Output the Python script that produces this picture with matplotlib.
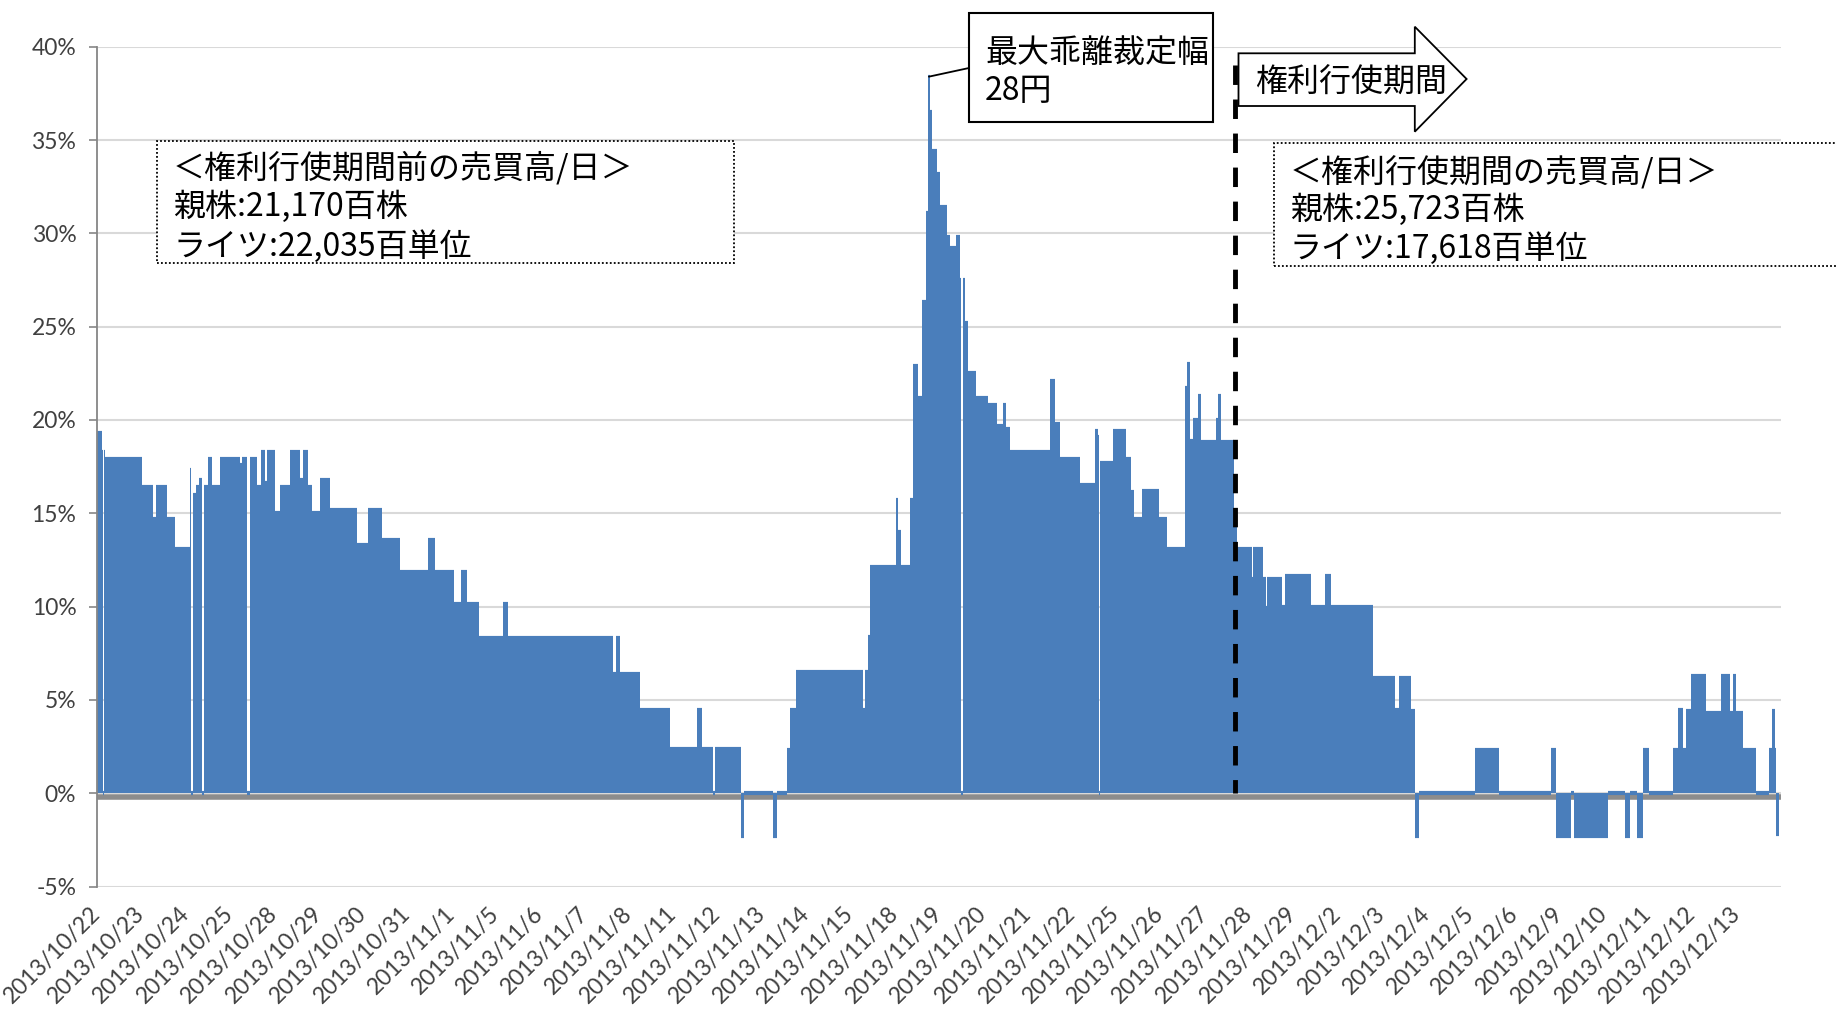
import numpy as np
import matplotlib
matplotlib.use('Agg')
import matplotlib.pyplot as plt
from matplotlib.patches import Rectangle, Polygon
from matplotlib.ticker import FuncFormatter

# trading days on the category axis
dates = ['2013/10/22', '2013/10/23', '2013/10/24', '2013/10/25', '2013/10/28',
         '2013/10/29', '2013/10/30', '2013/10/31', '2013/11/1', '2013/11/5',
         '2013/11/6', '2013/11/7', '2013/11/8', '2013/11/11', '2013/11/12',
         '2013/11/13', '2013/11/14', '2013/11/15', '2013/11/18', '2013/11/19',
         '2013/11/20', '2013/11/21', '2013/11/22', '2013/11/25', '2013/11/26',
         '2013/11/27', '2013/11/28', '2013/11/29', '2013/12/2', '2013/12/3',
         '2013/12/4', '2013/12/5', '2013/12/6', '2013/12/9', '2013/12/10',
         '2013/12/11', '2013/12/12', '2013/12/13']

# intraday step series: start position (in trading days) and deviation (%)
seg_day = [0.00, 0.10, 0.12, 0.16, 0.18, 1.00, 1.27, 1.33, 1.58, 1.76,
           2.09, 2.12, 2.17, 2.24, 2.30, 2.37, 2.42, 2.50, 2.58, 2.77,
           3.22, 3.26, 3.39, 3.44, 3.60, 3.69, 3.79, 3.84, 4.01, 4.12,
           4.35, 4.58, 4.65, 4.76, 4.84, 5.03, 5.25, 5.86, 6.12, 6.42,
           6.83, 7.47, 7.62, 8.05, 8.22, 8.34, 8.62, 9.16, 9.26, 11.65,
           11.70, 11.80, 12.25, 12.92, 13.53, 13.64, 13.90, 13.95, 14.52, 14.60,
           15.25, 15.35, 15.56, 15.63, 15.78, 17.29, 17.33, 17.40, 17.44, 18.03,
           18.08, 18.15, 18.34, 18.41, 18.53, 18.62, 18.70, 18.74, 18.80, 18.84,
           18.96, 19.03, 19.17, 19.24, 19.39, 19.48, 19.50, 19.53, 19.58, 19.66,
           19.84, 20.11, 20.30, 20.45, 20.52, 20.61, 21.51, 21.62, 21.73, 22.18,
           22.51, 22.59, 22.61, 22.64, 22.93, 23.21, 23.34, 23.39, 23.57, 23.96,
           24.15, 24.54, 24.59, 24.66, 24.73, 24.85, 24.92, 25.24, 25.30, 25.37,
           25.65, 25.72, 26.06, 26.09, 26.31, 26.37, 26.39, 26.73, 26.80, 27.40,
           27.70, 27.85, 28.79, 29.28, 29.38, 29.66, 29.74, 29.82, 31.09, 31.64,
           32.80, 32.92, 33.27, 33.33, 34.09, 34.47, 34.60, 34.74, 34.88, 35.03,
           35.56, 35.67, 35.79, 35.86, 35.98, 36.31, 36.65, 36.84, 36.91, 36.98,
           37.14, 37.43, 37.74, 37.80, 37.86, 37.89]
seg_pct = [19.3, 18.3, 0.0, 18.3, 17.9, 16.4, 14.7, 16.4, 14.7, 13.1,
           17.3, 0.0, 16.0, 16.4, 16.8, 0.0, 16.4, 17.9, 16.4, 17.9,
           17.6, 17.9, 0.0, 17.9, 16.4, 18.3, 16.6, 18.3, 15.0, 16.4,
           18.3, 16.8, 18.3, 16.4, 15.0, 16.8, 15.2, 13.3, 15.2, 13.55,
           11.85, 13.55, 11.85, 10.15, 11.85, 10.15, 8.3, 10.15, 8.3, 6.4,
           8.3, 6.4, 4.45, 2.35, 4.45, 2.35, 0.0, 2.35, -2.3, 0.0,
           -2.3, 0.0, 2.3, 4.45, 6.5, 4.45, 6.5, 8.35, 12.1, 15.7,
           14.0, 12.1, 15.7, 22.9, 21.2, 26.3, 31.1, 38.4, 36.5, 34.4,
           33.2, 31.4, 29.8, 29.2, 29.8, 27.5, 0.0, 27.5, 25.2, 22.5,
           21.2, 20.8, 19.7, 20.8, 19.5, 18.3, 22.1, 19.8, 17.9, 16.5,
           19.4, 19.1, 0.0, 17.7, 19.4, 17.9, 16.15, 14.7, 16.2, 14.7,
           13.1, 21.7, 23.0, 18.9, 20.0, 21.3, 18.8, 20.0, 21.3, 18.8,
           14.7, 13.1, 11.5, 13.1, 11.5, 9.9, 11.5, 10.0, 11.65, 10.0,
           11.65, 10.0, 6.2, 4.45, 6.2, 4.4, -2.3, 0.0, 2.33, 0.0,
           2.33, -2.27, 0.0, -2.27, 0.0, -2.27, 0.0, -2.27, 2.33, 0.0,
           2.33, 4.44, 2.33, 4.4, 6.3, 4.3, 6.3, 4.3, 6.3, 4.3,
           2.3, 0.0, 2.3, 4.4, 2.3, -2.2]
data_end = 37.96
exercise_start = 25.68    # start of the rights exercise period
dash_top = 39.0

left_box_lines = ['＜権利行使期間前の売買高/日＞', '親株:21,170百株', 'ライツ:22,035百単位']
right_box_lines = ['＜権利行使期間の売買高/日＞', '親株:25,723百株', 'ライツ:17,618百単位']
peak_lines = ['最大乖離裁定幅', '28円']
arrow_label = '権利行使期間'

plt.rcParams['font.family'] = ['Noto Sans CJK JP', 'DejaVu Sans']
W, H = 1836, 1016
fig = plt.figure(figsize=(W / 100, H / 100), dpi=100)


def fx(px):
    return px / W


def fy(py):
    return 1 - py / H


ax = fig.add_axes([fx(97.2), fy(886.5), fx(1781) - fx(97.2), fy(46.8) - fy(886.5)])

blue = '#4a7ebb'
x = np.array(seg_day + [data_end])
y = np.array(seg_pct + [seg_pct[-1]])
ax.axhline(-0.2, color='#8c8c8c', lw=4, zorder=1)
ax.fill_between(x, y, 0, step='post', color=blue, lw=0, zorder=2)
ax.hlines(seg_pct, seg_day, seg_day[1:] + [data_end], color=blue, lw=3, zorder=2)

ax.plot([exercise_start, exercise_start], [dash_top, 0], color='black', lw=3.5,
        dashes=(4, 3), dash_capstyle='butt', zorder=4)

# leader line from the peak to its label box
ip = int(np.argmax(seg_pct))
peak_x = 0.5 * (seg_day[ip] + seg_day[ip + 1])
ax.annotate('', xy=(peak_x, seg_pct[ip]), xycoords='data',
            xytext=(fx(969), fy(68)), textcoords='figure fraction',
            arrowprops=dict(arrowstyle='-', color='black', lw=1.3, shrinkA=0, shrinkB=0))

ax.set_xlim(0, len(dates))
ax.set_ylim(-5, 40)
ax.set_yticks(range(-5, 41, 5))
ax.yaxis.set_major_formatter(FuncFormatter(lambda v, p: f'{v:.0f}%'))
ax.yaxis.grid(True, color='#d9d9d9', lw=1.5)
ax.set_axisbelow(True)
for s in ['top', 'right', 'bottom']:
    ax.spines[s].set_visible(False)
ax.spines['left'].set_color('#868686')
ax.spines['left'].set_linewidth(1.3)

ax.set_xticks(range(len(dates)))
ax.set_xticklabels(dates, rotation=45, ha='right', va='center', rotation_mode='anchor')
ax.tick_params(axis='x', length=0, pad=17, labelsize=16.5, labelcolor='#404040')
ax.tick_params(axis='y', length=6, width=1.2, color='#868686', pad=9,
               labelsize=16.5, labelcolor='#404040')
for lab in ax.get_xticklabels() + ax.get_yticklabels():
    lab.set_family('Lato')

# dotted info boxes
fig.add_artist(Rectangle((fx(157.3), fy(263.3)), fx(734) - fx(157.3), fy(140.7) - fy(263.3),
                         transform=fig.transFigure, fc='white', ec='black', lw=1.3,
                         ls=(0, (1, 1.2)), zorder=5))
for i, t in enumerate(left_box_lines):
    fig.text(fx(173), fy(167.5 + 39.5 * i), t, fontsize=23, va='center', ha='left', zorder=6)

fig.add_artist(Rectangle((fx(1273.7), fy(265.7)), fx(1900) - fx(1273.7), fy(142.7) - fy(265.7),
                         transform=fig.transFigure, fc='white', ec='black', lw=1.3,
                         ls=(0, (1, 1.2)), zorder=5))
for i, t in enumerate(right_box_lines):
    fig.text(fx(1290), fy(171.5 + 38.5 * i), t, fontsize=23, va='center', ha='left', zorder=6)

# peak label box
fig.add_artist(Rectangle((fx(969), fy(121.7)), fx(1213.3) - fx(969), fy(13.3) - fy(121.7),
                         transform=fig.transFigure, fc='white', ec='black', lw=1.5, zorder=5))
for i, t in enumerate(peak_lines):
    fig.text(fx(985), fy(53 + 38 * i), t, fontsize=23, va='center', ha='left', zorder=6)

# block arrow for the exercise period
arrow_pts = [(1238.5, 53.3), (1414.8, 53.3), (1414.8, 26.7), (1466.6, 79),
             (1414.8, 131.7), (1414.8, 106), (1238.5, 106)]
fig.add_artist(Polygon([(fx(a), fy(b)) for a, b in arrow_pts], closed=True,
                       transform=fig.transFigure, fc='white', ec='black', lw=1.3, zorder=5))
fig.text(fx(1255), fy(83), arrow_label, fontsize=23, va='center', ha='left', zorder=6)

fig.savefig('out.png', dpi=100, facecolor='white')
